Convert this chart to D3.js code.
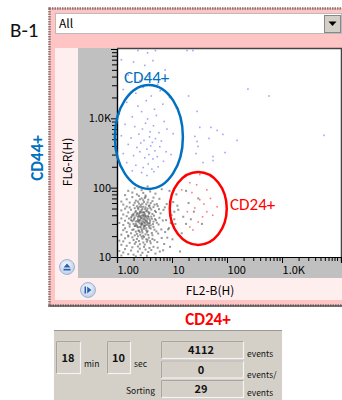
<!DOCTYPE html>
<html>
<head>
<meta charset="utf-8">
<script src="https://cdn.jsdelivr.net/npm/d3@7"></script>
<style>
  html,body{margin:0;padding:0;background:#fff;overflow:hidden}
  svg{display:block}
  .ui{font-family:'Noto Sans CJK JP','DejaVu Sans',sans-serif}
  .ann{font-family:Carlito,Lato,'Open Sans',sans-serif}
</style>
</head>
<body>
<svg id="chart" width="342" height="400"></svg>
<script>
// ---- data ----
const grayPts = `1.2,10.5 1.6,11 2.0,10.8 2.4,12 2.9,11.5 3.5,10.4 4.2,12.6 1.4,13 1.9,13.8 2.6,13.2 3.1,14 3.9,13.5 5.0,11.2 1.1,12.2 2.2,10.2 2.7,10.6 3.3,12.8 4.6,14 1.3,11.6 1.8,12.4 6.0,12 2.4,14.2 3.7,11.8 1.5,14.5 5.5,13.6
1.2,15 1.7,16 2.1,15.5 2.5,17 3.0,16.2 3.4,18 4.1,15.8 4.8,17.5 1.4,18.6 1.9,19.2 2.3,18.2 2.8,19.6 3.2,15.1 3.8,19 5.4,16.4 6.5,18.8 1.1,17.2 1.6,19.8 2.0,17.6 2.6,15.3 2.9,18.4 3.5,16.6 4.4,18.2 2.2,16.4 3.1,19.4 1.3,16.8 7.2,15.4 2.4,19.9 3.6,17.7 4.0,16.9
1.2,21 1.5,23 1.8,22 2.0,25 2.3,21.5 2.5,24 2.7,27 2.9,22.5 3.1,25.5 3.3,21.2 3.6,23.6 3.9,26.4 4.3,22.2 4.8,24.8 5.6,21.8 1.4,26 1.7,27.5 2.1,20.5 2.4,26.8 2.6,22.8 2.8,25.2 3.0,20.2 3.2,27.8 3.4,24.2 3.7,20.8 4.1,25.8 4.6,27.2 5.2,23.4 6.4,25 1.3,24.4 1.6,20.4 1.9,24.6 2.2,23.2 2.35,27.4 2.65,20.9 2.85,23.9 3.05,26.9 3.5,22.7 3.8,27.9 4.4,20.6 7.5,22.9 8.8,26.1
1.3,29 1.6,31 1.8,34 2.0,30 2.1,37 2.2,32.5 2.3,28.5 2.4,35 2.5,39 2.6,30.5 2.7,33.5 2.8,36.5 2.9,29.5 3.0,38.5 3.1,31.5 3.2,34.5 3.3,28.8 3.4,37.2 3.5,32.2 3.6,35.8 3.8,30.2 4.0,33.2 4.2,38.2 4.5,29.8 4.9,35.2 5.3,31.2 5.9,36.8 6.8,33.6 1.2,36 1.5,38.8 1.7,29.6 1.9,32.8 2.05,35.6 2.15,28.2 2.25,39.6 2.45,31.8 2.55,34.2 2.75,28.9 2.95,32.6 3.15,36.4 3.35,39.2 3.55,29.2 3.75,37.8 3.95,31 4.3,35.6 4.7,39.5 5.1,33.9 5.7,29.4 1.4,33.4 1.65,35.9 1.85,38.4 2.35,33.1 2.65,37.6 2.85,30.1 3.25,30.8 3.45,33.8 3.65,38.9 4.1,28.6 4.6,32.4 9.5,31 11,35 1.1,31 2.0,39.8 2.7,39.1 3.1,28.3 3.9,35.1
1.3,41 1.6,44 1.8,48 2.0,42 2.2,46 2.4,51 2.6,43 2.8,47.5 3.0,53 3.2,41.5 3.4,45.5 3.6,50 3.9,43.5 4.2,48.5 4.6,52.5 5.1,44.5 5.8,49 1.5,53.5 1.9,40.5 2.1,50.5 2.3,54 2.5,41.2 2.7,45 2.9,49.5 3.1,44 3.3,52 3.5,47 3.8,54.5 4.4,41.8 4.9,46.2 6.2,42.6 1.2,47 1.7,51.8 2.15,44.2 2.45,48.8 2.75,52.8 3.05,40.6 3.7,44.8 4.0,51.2 5.5,54.2 7.0,47.8 2.35,42.8 2.85,43.9 3.25,49 1.4,49.8 2.55,53.2
1.3,57 1.7,61 2.0,56 2.2,65 2.5,59 2.8,70 3.1,62 3.4,57.5 3.7,67 4.1,60 4.6,72 5.3,58 1.5,68 1.9,73 2.4,63 2.7,56.5 3.0,66 3.3,74 3.9,55.5 4.4,64 5.9,69 2.1,60.5 2.6,67.8 3.6,61.4 1.2,63 8,58 10.5,62 2.9,58.6 3.2,71 4.8,56.8
1.4,78 1.9,85 2.3,80 2.8,92 3.3,77 4.0,88 5.0,82 6.5,95 2.1,98 3.6,104 1.6,90 2.5,76 4.6,99 12,80 9,90 3.0,84
8.5,25 9.8,40 11.5,30 13,48 15,22 10.2,18 7.8,34 12.5,55 16,38 9.2,14 14,12 18,30 7.4,52 6.9,12.5 8.2,19 11,45
20,60 25,45 35,30 18,90 22,35 30,70
2.2,30 2.5,33 2.8,31 3.0,35 2.4,38 2.6,27 3.3,33 2.0,34 2.9,40 3.6,31 2.3,42 2.7,36 3.2,39 1.8,37 3.4,26 2.1,28 2.6,45 3.8,42 2.45,24 3.05,44`;

const bluePts = `1.2,7000 2.0,6500 3.2,5800 4.5,6800 1.6,4200 2.6,3500 3.8,4000 5.5,3100 7.5,5000 1.3,2600 2.2,2300 3.0,2800 4.2,2100 6.1,2500 1.5,1700 2.4,1500 3.4,1800 4.8,1350 6.8,1600 9,2000
1.1,1150 1.9,1050 2.8,1250 3.6,980 5.2,1100 7.2,900 1.4,820 2.1,760 2.9,700 3.3,850 4.0,640 4.6,780 5.8,620 8.1,700 1.2,560 1.8,520 2.5,590 3.1,480 3.9,540 4.4,450 5.0,510 6.4,470
1.6,420 2.3,380 2.7,440 3.5,360 4.1,400 4.9,340 6.0,390 7.8,330 1.3,310 2.0,290 2.6,330 3.2,270 3.8,300 4.5,260 5.4,280 7.0,240 1.5,230 2.2,210 3.0,195 3.7,220 4.3,185 5.6,200 2.8,165 3.5,150 4.7,170 1.9,175
10.5,600 12,1400 9.6,300 2.4,9500 5.0,9500 3.6,8800
18.7,9500 24,9500 240,2640 580,2100 20,2100 28.5,1260 32,740 51,740 66,670 84,586 26,548 47,513 152,481 5800,568 28.5,464 29.6,393 92,321 27.2,310 55.6,281 55.6,246 36.6,230`;

const redPts = `32,155 21,118 43,93 23,85 32,67 66,53 26,51 19,45 43,45 21,27 24,24.6 15,93 36,38 28,110 50,70 38,58 30,32 55,40`;

const xMajor = [1, 10, 100, 1000];
const xMajorLabels = ['1.00', '10', '100', '1.0K'];
const yMajor = [10, 100, 1000];
const yMajorLabels = ['10', '100', '1.0K'];

// gates: center (x,y) in data units, radii in px
const gates = [
  { name: 'CD44+', cx: 3.8, cy: 540, rx: 34, ry: 52, color: '#0070c0' },
  { name: 'CD24+', cx: 30, cy: 50, rx: 28.5, ry: 36.5, color: '#ff0000' },
];

const stats = [
  { value: '4112', unit: 'events' },
  { value: '0', unit: 'events/' },
  { value: '29', unit: 'events' },
];

const parse = s => s.trim().split(/\s+/).map(p => p.split(',').map(Number));

// ---- drawing ----
const svg = d3.select('#chart');
const P = { left: 117, right: 341, top: 49, bottom: 257 };

const x = d3.scaleLog().domain([1, 11800]).range([P.left, P.right]);
const y = d3.scaleLog().domain([10, 10000]).range([P.bottom, P.top]);

// B-1 label
svg.append('text').attr('class', 'ann').attr('x', 10).attr('y', 37)
  .style('font-size', '21px').attr('fill', '#111').text('B-1');

// window frame
svg.append('rect').attr('x', 49).attr('y', 8).attr('width', 300).attr('height', 298)
  .attr('fill', '#ffc4c4');
svg.append('rect').attr('x', 49.5).attr('y', 8.5).attr('width', 300).attr('height', 297)
  .attr('fill', 'none').attr('stroke', '#8c7272').attr('stroke-width', 2.5)
  .attr('stroke-dasharray', '1.5,1');
svg.append('line').attr('x1', 48).attr('x2', 342).attr('y1', 306).attr('y2', 306)
  .attr('stroke', '#555').attr('stroke-width', 1.5);

// dropdown
svg.append('rect').attr('x', 55.5).attr('y', 13.5).attr('width', 286).attr('height', 20)
  .attr('fill', '#fff').attr('stroke', '#bbb');
svg.append('text').attr('class', 'ui').attr('x', 59).attr('y', 27.5)
  .style('font-size', '12px').attr('fill', '#000').text('All');
svg.append('rect').attr('x', 324.5).attr('y', 15.5).attr('width', 16).attr('height', 17)
  .attr('fill', '#d4d0c8').attr('stroke', '#888');
svg.append('path').attr('d', 'M328.5,21.5 h8 l-4,4.5 z').attr('fill', '#000');

// inner panel areas
svg.append('rect').attr('x', 55).attr('y', 48).attr('width', 290).attr('height', 252).attr('fill', '#ffeeee');
svg.append('rect').attr('x', 78).attr('y', 48).attr('width', 270).attr('height', 230).attr('fill', '#c0c0c0');
svg.append('rect').attr('x', P.left).attr('y', P.top).attr('width', P.right - P.left)
  .attr('height', P.bottom - P.top).attr('fill', '#fff');
svg.append('path')
  .attr('d', `M${P.left},${P.top - 0.5} H${P.right + 0.5} V${P.bottom}`)
  .attr('fill', 'none').attr('stroke', '#444').attr('stroke-width', 1.5);

// axes
const minor = d => d3.range(2, 10).map(k => k * d);
const xMinor = xMajor.flatMap(minor).concat([10000]).filter(v => v <= 11800);
const yMinor = yMajor.flatMap(minor);

const xAxisMinor = d3.axisBottom(x).tickValues(xMinor).tickSize(4).tickFormat('');
const xAxisMajor = d3.axisBottom(x).tickValues(xMajor).tickSize(6)
  .tickFormat((d, i) => xMajorLabels[i]);
const gx1 = svg.append('g').attr('transform', `translate(0,${P.bottom})`).call(xAxisMinor);
const gx = svg.append('g').attr('transform', `translate(0,${P.bottom})`).call(xAxisMajor);
[gx1, gx].forEach(g => {
  g.select('.domain').attr('stroke', '#000').attr('stroke-width', 1.2);
  g.selectAll('line').attr('stroke', '#000');
});
gx.selectAll('text').attr('class', 'ui').attr('fill', '#000')
  .style('font-size', '11px').attr('text-anchor', 'start').attr('y', 9).attr('dy', '0.71em');

const yAxisMinor = d3.axisLeft(y).tickValues(yMinor).tickSize(5).tickFormat('');
const yAxisMajor = d3.axisLeft(y).tickValues(yMajor).tickSize(6)
  .tickFormat((d, i) => yMajorLabels[i]);
const gy1 = svg.append('g').attr('transform', `translate(${P.left},0)`).call(yAxisMinor);
const gy = svg.append('g').attr('transform', `translate(${P.left},0)`).call(yAxisMajor);
[gy1, gy].forEach(g => {
  g.select('.domain').attr('stroke', '#000').attr('stroke-width', 1.2);
  g.selectAll('line').attr('stroke', '#000');
});
gy.selectAll('text').attr('class', 'ui').attr('fill', '#000')
  .style('font-size', '11px').attr('x', -6);

// axis titles
svg.append('text').attr('class', 'ui')
  .attr('transform', 'translate(72,162) rotate(-90)').attr('text-anchor', 'middle')
  .style('font-size', '12px').attr('fill', '#000').text('FL6-R(H)');
svg.append('text').attr('class', 'ui').attr('x', 210).attr('y', 295)
  .attr('text-anchor', 'middle').style('font-size', '12px').attr('fill', '#000').text('FL2-B(H)');

// round buttons
const defs = svg.append('defs');
const bg = defs.append('radialGradient').attr('id', 'btn').attr('cx', '45%').attr('cy', '40%').attr('r', '60%');
bg.append('stop').attr('offset', '0%').attr('stop-color', '#ffffff');
bg.append('stop').attr('offset', '100%').attr('stop-color', '#b9cde8');
[[67, 267], [88, 290]].forEach(([cx, cy]) => {
  svg.append('circle').attr('cx', cx).attr('cy', cy).attr('r', 7.5)
    .attr('fill', 'url(#btn)').attr('stroke', '#9fb4d6');
});
svg.append('path').attr('d', 'M63.5,267.5 l3.5,-4 l3.5,4 z M63.5,268.8 h7 v1.6 h-7 z').attr('fill', '#2a5fb0');
svg.append('path').attr('d', 'M84.5,286.5 h1.6 v7 h-1.6 z M87.2,286.5 l4.2,3.5 l-4.2,3.5 z').attr('fill', '#2a5fb0');

// scatter
const plot = svg.append('g');
const dots = (pts, color, op, s) => plot.selectAll(null).data(parse(pts)).enter().append('rect')
  .attr('x', d => x(d[0]) - s / 2).attr('y', d => y(d[1]) - s / 2)
  .attr('width', s).attr('height', s).attr('fill', color).attr('opacity', op);
dots(grayPts, '#555', 0.6, 2);
dots(bluePts, '#7c7cf2', 0.7, 1.6);
dots(redPts, '#ff5050', 0.75, 1.6);

// gates
gates.forEach(g => {
  svg.append('ellipse').attr('cx', x(g.cx)).attr('cy', y(g.cy)).attr('rx', g.rx).attr('ry', g.ry)
    .attr('fill', 'none').attr('stroke', g.color).attr('stroke-width', 2.5);
});
svg.append('text').attr('class', 'ann').attr('x', 124).attr('y', 83)
  .style('font-size', '17px').attr('fill', '#0070c0').text('CD44+');
svg.append('text').attr('class', 'ann').attr('x', 230).attr('y', 210)
  .style('font-size', '17px').attr('fill', '#ff0000').text('CD24+');

// outside labels
svg.append('text').attr('class', 'ann').attr('x', 208).attr('y', 325).attr('text-anchor', 'middle')
  .style('font-size', '17px').style('font-weight', 'bold').attr('fill', '#ff0000').text('CD24+');
svg.append('text').attr('class', 'ann').attr('transform', 'translate(43,158) rotate(-90)')
  .attr('text-anchor', 'middle').style('font-size', '17px').style('font-weight', 'bold')
  .attr('fill', '#0070c0').text('CD44+');

// status panel
const sp = svg.append('g');
sp.append('rect').attr('x', 54).attr('y', 330).attr('width', 228).attr('height', 70).attr('fill', '#d4d0c8');
sp.append('line').attr('x1', 54).attr('x2', 282).attr('y1', 330.5).attr('y2', 330.5).attr('stroke', '#999');
const box = (bx, by, w, h) => sp.append('rect').attr('x', bx + 0.5).attr('y', by + 0.5)
  .attr('width', w).attr('height', h).attr('fill', '#d4d0c8')
  .attr('stroke', '#f4f4f4').attr('stroke-width', 1.2);
const boxEdge = (bx, by, w, h) => sp.append('path')
  .attr('d', `M${bx + 0.5},${by + h + 0.5} V${by + 0.5} H${bx + w + 0.5}`)
  .attr('fill', 'none').attr('stroke', '#a8a49c');
const txt = (tx, ty, s, size, anchor, weight) => sp.append('text').attr('class', 'ui')
  .attr('x', tx).attr('y', ty).attr('text-anchor', anchor || 'start')
  .style('font-size', size + 'px').style('font-weight', weight || 'normal').attr('fill', '#111').text(s);

box(56, 341, 24, 32); boxEdge(56, 341, 24, 32);
txt(68, 362, '18', 11, 'middle', 'bold');
txt(84, 367, 'min', 8.5);
box(107, 341, 23, 32); boxEdge(107, 341, 23, 32);
txt(118.5, 362, '10', 11, 'middle', 'bold');
txt(134, 367, 'sec', 8.5);
stats.forEach((s, i) => {
  const by = 341 + i * 19.5;
  box(161, by, 82, 17); boxEdge(161, by, 82, 17);
  txt(201, by + 13, s.value, 11, 'middle', 'bold');
  txt(247, by + 16 + (i === 1 ? 1 : 0), s.unit, 8.5);
});
txt(155, 394, 'Sorting', 8.5, 'end');

// B-2 label (cut off at bottom, as in the source figure)
svg.append('text').attr('class', 'ann').attr('x', 0).attr('y', 414)
  .style('font-size', '21px').attr('fill', '#111').text('B-2');
</script>
</body>
</html>
